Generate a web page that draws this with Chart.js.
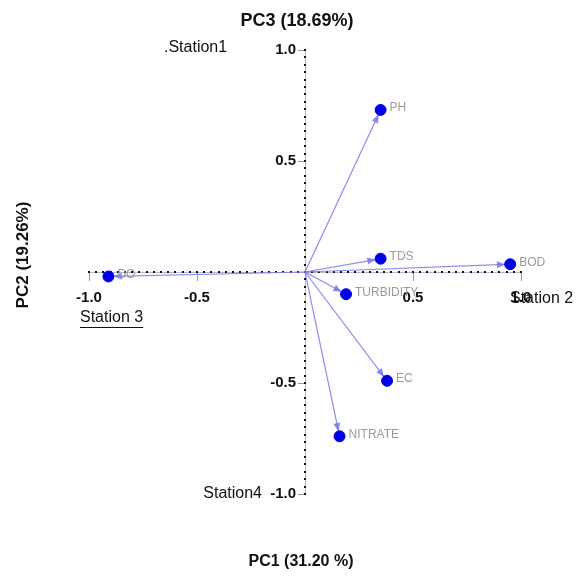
<!DOCTYPE html>
<html>
<head>
<meta charset="utf-8">
<script src="https://cdn.jsdelivr.net/npm/chart.js@4.4.1/dist/chart.umd.min.js"></script>
<style>
  html, body { margin: 0; padding: 0; background: #fff; }
  #wrap { width: 581px; height: 577px; position: relative; }
</style>
</head>
<body>
<div id="wrap"><canvas id="pcaChart"></canvas></div>
<script>
// loadings
const variables = ['PH', 'TDS', 'BOD', 'TURBIDITY', 'EC', 'NITRATE', 'DO'];
const pc1Values = [0.35, 0.35, 0.95, 0.19, 0.38, 0.16, -0.91];
const pc2Values = [0.73, 0.06, 0.035, -0.10, -0.49, -0.74, -0.02];
const axisTicks = [-1.0, -0.5, 0, 0.5, 1.0];

const arrowColor = 'rgba(120,120,235,0.85)';
const pointColor = '#0000e6';

// arrows from origin + little dotted minor ticks on the axes
const biplotPlugin = {
    id: 'biplot',
    beforeDatasetsDraw(chart) {
        const { ctx, scales: { x, y } } = chart;
        const ox = x.getPixelForValue(0), oy = y.getPixelForValue(0);
        ctx.save();
        // minor dots
        ctx.fillStyle = '#111';
        for (let v = -1; v <= 1.0001; v += 1 / 30) {
            const px = x.getPixelForValue(v);
            ctx.fillRect(Math.round(px) - 1, Math.round(oy) - 1, 2, 2);
            const py = y.getPixelForValue(v);
            ctx.fillRect(Math.round(ox) - 1, Math.round(py) - 1, 2, 2);
        }
        // arrows
        ctx.strokeStyle = arrowColor;
        ctx.fillStyle = arrowColor;
        ctx.lineWidth = 1.2;
        pc1Values.forEach((v, i) => {
            const tx = x.getPixelForValue(v), ty = y.getPixelForValue(pc2Values[i]);
            const ang = Math.atan2(ty - oy, tx - ox);
            const ex = tx - Math.cos(ang) * 5, ey = ty - Math.sin(ang) * 5;
            ctx.beginPath();
            ctx.moveTo(ox, oy);
            ctx.lineTo(ex, ey);
            ctx.stroke();
            const hl = 9, hw = 0.4;
            ctx.beginPath();
            ctx.moveTo(ex, ey);
            ctx.lineTo(ex - hl * Math.cos(ang - hw), ey - hl * Math.sin(ang - hw));
            ctx.lineTo(ex - hl * Math.cos(ang + hw), ey - hl * Math.sin(ang + hw));
            ctx.closePath();
            ctx.fill();
        });
        ctx.restore();
    },
    afterDatasetsDraw(chart) {
        const { ctx, scales: { x, y } } = chart;
        ctx.save();
        // variable labels
        ctx.font = '12px "Liberation Sans", Arial, sans-serif';
        ctx.fillStyle = '#9a9a9a';
        ctx.textBaseline = 'middle';
        ctx.textAlign = 'left';
        variables.forEach((name, i) => {
            ctx.fillText(name, x.getPixelForValue(pc1Values[i]) + 9, y.getPixelForValue(pc2Values[i]) - 2);
        });

        // axis titles
        ctx.fillStyle = '#111';
        ctx.textAlign = 'center';
        ctx.font = 'bold 18px "Liberation Sans", Arial, sans-serif';
        ctx.fillText('PC3 (18.69%)', 297, 21);
        ctx.font = 'bold 16px "Liberation Sans", Arial, sans-serif';
        ctx.fillText('PC1 (31.20 %)', 301, 562);
        ctx.save();
        ctx.translate(23, 255);
        ctx.rotate(-Math.PI / 2);
        ctx.font = 'bold 17px "Liberation Sans", Arial, sans-serif';
        ctx.fillText('PC2 (19.26%)', 0, 0);
        ctx.restore();

        // station labels
        ctx.font = '16px "Liberation Sans", Arial, sans-serif';
        ctx.fillStyle = '#111';
        ctx.textAlign = 'left';
        ctx.fillText('.Station1', 164, 48);
        ctx.fillText('Station 2', 510, 299);
        ctx.fillText('Station 3', 80, 318);
        const w3 = ctx.measureText('Station 3').width;
        ctx.fillRect(80, 327, w3, 1);
        ctx.textAlign = 'right';
        ctx.fillText('Station4', 262, 494);
        ctx.restore();
    }
};

const tickFont = { family: '"Liberation Sans", Arial, sans-serif', size: 15, weight: 'bold' };
const tickLabel = v => (Math.abs(v) < 1e-9 ? '' : Number(v).toFixed(1));

new Chart(document.getElementById('pcaChart'), {
    type: 'scatter',
    data: {
        datasets: [{
            data: pc1Values.map((v, i) => ({ x: v, y: pc2Values[i] })),
            backgroundColor: pointColor,
            borderColor: pointColor,
            pointRadius: 5.5,
            pointHoverRadius: 5.5
        }]
    },
    options: {
        responsive: true,
        maintainAspectRatio: false,
        animation: false,
        layout: { padding: { left: 89, right: 60, top: 50, bottom: 83 } },
        plugins: { legend: { display: false }, tooltip: { enabled: false } },
        scales: {
            x: {
                type: 'linear',
                position: 'center',
                min: -1, max: 1,
                afterBuildTicks: s => { s.ticks = axisTicks.map(v => ({ value: v })); },
                ticks: { callback: tickLabel, font: tickFont, color: '#111', padding: 9, maxRotation: 0 },
                grid: { drawOnChartArea: false, drawTicks: true, tickLength: 8, color: '#999' },
                border: { display: true, color: '#b8b8d0', width: 1 }
            },
            y: {
                type: 'linear',
                position: 'center',
                min: -1, max: 1,
                afterBuildTicks: s => { s.ticks = axisTicks.map(v => ({ value: v })); },
                ticks: { callback: tickLabel, font: tickFont, color: '#111', padding: 2 },
                grid: { drawOnChartArea: false, drawTicks: true, tickLength: 7, color: '#999' },
                border: { display: true, color: '#b8b8d0', width: 1 }
            }
        }
    },
    plugins: [biplotPlugin]
});
</script>
</body>
</html>
